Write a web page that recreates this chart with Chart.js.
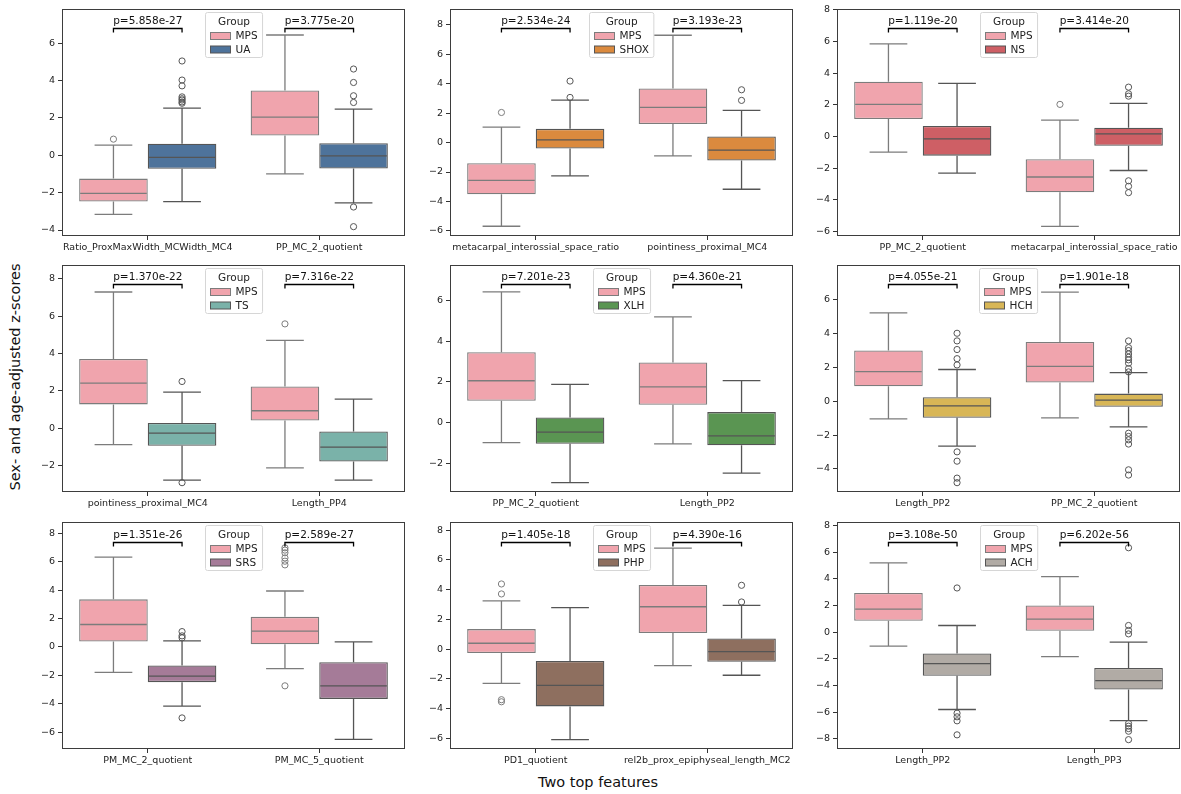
<!DOCTYPE html>
<html>
<head>
<meta charset="utf-8">
<script src="https://cdn.jsdelivr.net/npm/chart.js@4.4.0/dist/chart.umd.min.js"></script>
<style>
  body{margin:0;background:#fff;width:1181px;height:794px;position:relative;overflow:hidden;font-family:"DejaVu Sans",sans-serif;}
  canvas{position:absolute;}
  .title{position:absolute;white-space:nowrap;font-size:14.5px;color:#111;}
  #ytitle{left:15px;top:377px;transform:translate(-50%,-50%) rotate(-90deg);}
  #xtitle{left:598px;top:782px;transform:translate(-50%,-50%);}
</style>
</head>
<body>
<div class="title" id="ytitle">Sex- and age-adjusted z-scores</div>
<div class="title" id="xtitle">Two top features</div>
<script>
// one entry per panel, left to right, top to bottom
const features = [
  ['Ratio_ProxMaxWidth_MCWidth_MC4','PP_MC_2_quotient'],
  ['metacarpal_interossial_space_ratio','pointiness_proximal_MC4'],
  ['PP_MC_2_quotient','metacarpal_interossial_space_ratio'],
  ['pointiness_proximal_MC4','Length_PP4'],
  ['PP_MC_2_quotient','Length_PP2'],
  ['Length_PP2','PP_MC_2_quotient'],
  ['PM_MC_2_quotient','PM_MC_5_quotient'],
  ['PD1_quotient','rel2b_prox_epiphyseal_length_MC2'],
  ['Length_PP2','Length_PP3']
];
const groups = ['UA','SHOX','NS','TS','XLH','HCH','SRS','PHP','ACH'];
const pValues = [
  ['5.858e-27','3.775e-20'],
  ['2.534e-24','3.193e-23'],
  ['1.119e-20','3.414e-20'],
  ['1.370e-22','7.316e-22'],
  ['7.201e-23','4.360e-21'],
  ['4.055e-21','1.901e-18'],
  ['1.351e-26','2.589e-27'],
  ['1.405e-18','4.390e-16'],
  ['3.108e-50','6.202e-56']
];
// [low whisker, q1, median, q3, high whisker]
const mpsStats = [
  [[-3.16,-2.48,-2.04,-1.25,0.54],[-1.00,1.05,2.04,3.46,6.43]],
  [[-5.68,-3.51,-2.56,-1.40,1.04],[-0.90,1.25,2.38,3.67,7.28]],
  [[-0.99,1.10,2.03,3.46,5.85],[-5.68,-3.53,-2.56,-1.44,1.03]],
  [[-0.89,1.27,2.41,3.71,7.30],[-2.14,0.41,0.93,2.23,4.71]],
  [[-0.98,1.08,2.06,3.46,6.42],[-1.04,0.88,1.76,2.96,5.19]],
  [[-1.04,0.88,1.75,2.99,5.21],[-0.98,1.10,2.06,3.50,6.44]],
  [[-1.79,0.38,1.58,3.35,6.32],[-1.53,0.19,1.11,2.12,3.94]],
  [[-2.29,-0.25,0.40,1.35,3.24],[-1.10,1.08,2.85,4.31,6.79]],
  [[-1.05,0.85,1.73,2.93,5.19],[-1.83,0.10,0.98,2.00,4.16]]
];
const ctrlStats = [
  [[-2.48,-0.73,-0.11,0.61,2.52],[-2.55,-0.71,-0.04,0.64,2.46]],
  [[-2.26,-0.40,0.18,0.93,2.88],[-3.17,-1.22,-0.52,0.41,2.18]],
  [[-2.32,-1.21,-0.15,0.66,3.36],[-2.15,-0.59,0.17,0.55,2.09]],
  [[-2.79,-0.95,-0.27,0.27,1.93],[-2.79,-1.80,-1.02,-0.18,1.55]],
  [[-2.94,-1.03,-0.46,0.26,1.88],[-2.47,-1.11,-0.65,0.52,2.07]],
  [[-2.65,-0.98,-0.28,0.24,1.87],[-1.51,-0.33,0.06,0.45,1.69]],
  [[-4.17,-2.48,-2.05,-1.30,0.42],[-6.51,-3.66,-2.74,-1.08,0.35]],
  [[-6.07,-3.84,-2.43,-0.79,2.79],[-1.75,-0.85,-0.16,0.72,2.94]],
  [[-5.79,-3.26,-2.36,-1.60,0.50],[-6.62,-4.29,-3.63,-2.68,-0.75]]
];
const mpsOutliers = [
  [[0.86],[]],
  [[2.04],[]],
  [[],[2.03]],
  [[],[5.59]],
  [[],[]],
  [[],[]],
  [[],[6.98,6.82,6.63,6.27,6.04,5.78,-2.74]],
  [[4.38,3.71,-3.39,-3.53],[]],
  [[],[]]
];
const ctrlOutliers = [
  [[5.04,4.02,3.71,3.12,3.02,2.95,2.85,2.78],[4.61,3.89,3.18,2.82,-2.77,-3.82]],
  [[4.17,3.06],[3.58,2.86]],
  [[],[3.12,2.70,2.55,-2.80,-3.15,-3.55]],
  [[2.50,-2.93],[]],
  [[],[]],
  [[4.01,3.56,3.05,2.51,2.14,-2.99,-3.54,-4.54,-4.81],
   [3.56,3.16,2.99,2.79,2.59,2.44,2.24,1.93,1.73,-1.89,-2.08,-2.28,-2.53,-4.05,-4.36]],
  [[1.08,0.78,0.64,-5.00],[]],
  [[],[4.29,3.17]],
  [[3.31,-6.07,-6.34,-6.64,-7.69],[6.32,0.50,0.13,-0.13,-6.84,-7.04,-7.22,-7.42,-8.05]]
];
const yMin = [-4.32,-6.34,-6.29,-3.43,-3.40,-5.36,-7.19,-6.70,-8.75];
const yMax = [7.82,9.06,8.06,8.75,7.74,8.04,8.80,8.54,8.25];
const yTicks = [
  [-4,-2,0,2,4,6],
  [-6,-4,-2,0,2,4,6,8],
  [-6,-4,-2,0,2,4,6,8],
  [-2,0,2,4,6,8],
  [-2,0,2,4,6],
  [-4,-2,0,2,4,6],
  [-6,-4,-2,0,2,4,6,8],
  [-6,-4,-2,0,2,4,6,8],
  [-8,-6,-4,-2,0,2,4,6,8]
];
const bracketY = [6.80,7.77,6.86,7.73,6.81,6.92,7.41,7.18,6.77];

const MPS_COLOR = '#f0a4ad';
const groupColors = ['#4e739b','#db8a3e','#ce5f65','#7ab2a9','#5a9552','#d8b656','#a57b98','#8e6f5f','#b1aba5'];
const MPS_EDGE = '#7c7c7c';
const CTRL_EDGE = '#555555';
const FONT = '"DejaVu Sans", sans-serif';

const PLOT_W = 343, PLOT_H = 227, AXIS_W = 50, PAD_TOP = 10, PAD_RIGHT = 4, XAXIS_H = 30;
const colLeft = [62, 450, 837];
const rowTop = [9, 265, 522];

const minus = v => v < 0 ? '\u2212' + Math.abs(v) : String(v);

const boxPlot = {
  id: 'boxPlot',
  afterDatasetsDraw(chart, args, opts) {
    const p = opts.panel;
    const ctx = chart.ctx, ys = chart.scales.y, a = chart.chartArea;
    const statSets = [mpsStats[p], ctrlStats[p]];
    const outSets = [mpsOutliers[p], ctrlOutliers[p]];
    const edges = [MPS_EDGE, CTRL_EDGE];
    ctx.save();
    statSets.forEach((stats, d) => {
      chart.getDatasetMeta(d).data.forEach((bar, j) => {
        const {x, width} = bar.getProps(['x', 'width'], true);
        const [lo, q1, med, q3, hi] = stats[j].map(v => ys.getPixelForValue(v));
        const cap = width * 0.55 / 2;
        ctx.strokeStyle = edges[d];
        ctx.lineWidth = 1.3;
        ctx.beginPath();
        ctx.moveTo(x, q3); ctx.lineTo(x, hi);
        ctx.moveTo(x - cap, hi); ctx.lineTo(x + cap, hi);
        ctx.moveTo(x, q1); ctx.lineTo(x, lo);
        ctx.moveTo(x - cap, lo); ctx.lineTo(x + cap, lo);
        ctx.moveTo(x - width / 2 + 1, med); ctx.lineTo(x + width / 2 - 1, med);
        ctx.stroke();
        ctx.lineWidth = 1;
        outSets[d][j].forEach(v => {
          ctx.beginPath();
          ctx.arc(x, ys.getPixelForValue(v), 3.1, 0, Math.PI * 2);
          ctx.stroke();
        });
      });
    });

    // significance brackets
    const m0 = chart.getDatasetMeta(0).data, m1 = chart.getDatasetMeta(1).data;
    const by = Math.round(ys.getPixelForValue(bracketY[p])) + 0.5;
    ctx.strokeStyle = '#000';
    ctx.lineWidth = 1.3;
    ctx.fillStyle = '#111';
    ctx.font = '10.5px ' + FONT;
    ctx.textAlign = 'center';
    ctx.textBaseline = 'bottom';
    m0.forEach((bar, j) => {
      const x0 = bar.x, x1 = m1[j].x;
      ctx.beginPath();
      ctx.moveTo(x0, by + 4); ctx.lineTo(x0, by); ctx.lineTo(x1, by); ctx.lineTo(x1, by + 4);
      ctx.stroke();
      ctx.fillText('p=' + pValues[p][j], (x0 + x1) / 2, by - 2);
    });

    // legend
    ctx.font = '10.5px ' + FONT;
    const labels = ['MPS', groups[p]];
    const labW = Math.max(...labels.map(t => ctx.measureText(t).width));
    const lw = 5 + 20 + 5 + labW + 5;
    const lx = Math.round((a.left + a.right) / 2 - lw / 2) + 0.5;
    const lt = a.top + 3.5;
    ctx.fillStyle = 'rgba(255,255,255,0.85)';
    ctx.strokeStyle = '#d6d6d6';
    ctx.lineWidth = 1;
    ctx.beginPath();
    ctx.roundRect(lx, lt, lw, 45, 2);
    ctx.fill(); ctx.stroke();
    ctx.fillStyle = '#222';
    ctx.textBaseline = 'middle';
    ctx.textAlign = 'center';
    ctx.fillText('Group', lx + lw / 2, lt + 10);
    ctx.textAlign = 'left';
    [MPS_COLOR, groupColors[p]].forEach((c, k) => {
      const cy = lt + 23.5 + k * 13.5;
      ctx.fillStyle = c;
      ctx.strokeStyle = edges[k];
      ctx.fillRect(lx + 5, cy - 3.5, 20, 7);
      ctx.strokeRect(lx + 5, cy - 3.5, 20, 7);
      ctx.fillStyle = '#222';
      ctx.fillText(labels[k], lx + 30, cy + 0.5);
    });

    // frame
    ctx.strokeStyle = '#3d3d3d';
    ctx.lineWidth = 1;
    ctx.strokeRect(a.left + 0.5, a.top + 0.5, a.right - a.left - 1, a.bottom - a.top - 1);
    ctx.restore();
  }
};

function makePanel(p) {
  const col = p % 3, row = Math.floor(p / 3);
  const canvas = document.createElement('canvas');
  canvas.width = AXIS_W + PLOT_W + PAD_RIGHT;
  canvas.height = PAD_TOP + PLOT_H + XAXIS_H;
  canvas.style.width = canvas.width + 'px';
  canvas.style.height = canvas.height + 'px';
  canvas.style.left = (colLeft[col] - AXIS_W) + 'px';
  canvas.style.top = (rowTop[row] - PAD_TOP) + 'px';
  document.body.appendChild(canvas);

  new Chart(canvas, {
    type: 'bar',
    data: {
      labels: features[p],
      datasets: [
        { label: 'MPS', data: mpsStats[p].map(s => [s[1], s[3]]),
          backgroundColor: MPS_COLOR, borderColor: MPS_EDGE, borderWidth: 1.3, borderSkipped: false },
        { label: groups[p], data: ctrlStats[p].map(s => [s[1], s[3]]),
          backgroundColor: groupColors[p], borderColor: CTRL_EDGE, borderWidth: 1.3, borderSkipped: false }
      ]
    },
    options: {
      responsive: false,
      animation: false,
      devicePixelRatio: window.devicePixelRatio || 1,
      categoryPercentage: 0.8,
      barPercentage: 1.0,
      layout: { padding: { top: PAD_TOP, right: PAD_RIGHT, left: 0, bottom: 0 } },
      plugins: {
        legend: { display: false },
        tooltip: { enabled: false },
        boxPlot: { panel: p }
      },
      scales: {
        x: {
          offset: true,
          grid: { offset: false, drawOnChartArea: false, drawTicks: true, tickLength: 4, tickColor: '#333' },
          border: { display: false },
          ticks: { color: '#222', font: { family: FONT, size: 9.5 }, padding: 2, maxRotation: 0, autoSkip: false },
          afterFit(s) { s.height = XAXIS_H; s.paddingLeft = 0; s.paddingRight = 0; }
        },
        y: {
          min: yMin[p],
          max: yMax[p],
          afterBuildTicks(s) { s.ticks = yTicks[p].map(v => ({ value: v })); },
          grid: { drawOnChartArea: false, drawTicks: true, tickLength: 4, tickColor: '#333' },
          border: { display: false },
          ticks: { color: '#222', font: { family: FONT, size: 9.5 }, padding: 3, callback: v => minus(v) },
          afterFit(s) { s.width = AXIS_W; s.paddingTop = 0; s.paddingBottom = 0; }
        }
      }
    },
    plugins: [boxPlot]
  });
}

features.forEach((f, p) => makePanel(p));
</script>
</body>
</html>
